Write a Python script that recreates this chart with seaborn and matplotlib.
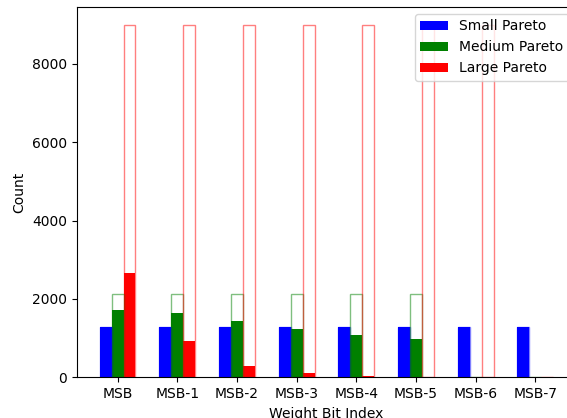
import pandas as pd
import matplotlib
matplotlib.use("Agg")
import matplotlib.pyplot as plt
import seaborn as sns

# ---- data ----
bit_labels = ["MSB", "MSB-1", "MSB-2", "MSB-3", "MSB-4", "MSB-5", "MSB-6", "MSB-7"]
series_names = ["Small Pareto", "Medium Pareto", "Large Pareto"]

small_count = [1290, 1290, 1290, 1290, 1290, 1290, 1290, 1290]
medium_count = [1720, 1645, 1440, 1235, 1080, 980, 0, 0]
large_count = [2665, 930, 290, 110, 35, 6, 0, 0]

# total sizes of each front (drawn as hollow bars)
small_total = [1290, 1290, 1290, 1290, 1290, 1290, 1290, 1290]
medium_total = [2120, 2120, 2120, 2120, 2120, 2120, 0, 0]
large_total = [9000, 9000, 9000, 9000, 9000, 9000, 9000, 0]

colors = {"Small Pareto": "blue", "Medium Pareto": "green", "Large Pareto": "red"}


def to_long(values_by_series):
    rows = []
    for name, vals in zip(series_names, values_by_series):
        for lab, v in zip(bit_labels, vals):
            rows.append({"bit": lab, "series": name, "count": v})
    return pd.DataFrame(rows)


counts_df = to_long([small_count, medium_count, large_count])
totals_df = to_long([small_total, medium_total, large_total])

fig = plt.figure(figsize=(5.67, 4.18), dpi=100)
ax = fig.add_axes([0.1358, 0.0974, 0.880, 0.886])

sns.barplot(data=counts_df, x="bit", y="count", hue="series",
            order=bit_labels, hue_order=series_names, palette=colors,
            saturation=1, width=0.6, gap=0, errorbar=None, ax=ax)

sns.barplot(data=totals_df, x="bit", y="count", hue="series",
            order=bit_labels, hue_order=series_names, palette=colors,
            saturation=1, width=0.6, gap=0, errorbar=None, fill=False,
            alpha=0.5, linewidth=1.0, legend=False, ax=ax)

ax.set_xlim(-0.68, 7.68)
ax.set_ylim(0, 9450)
ax.set_xlabel("Weight Bit Index")
ax.set_ylabel("Count")
sns.move_legend(ax, "upper right", title=None)

fig.savefig("out.png", dpi=100)
